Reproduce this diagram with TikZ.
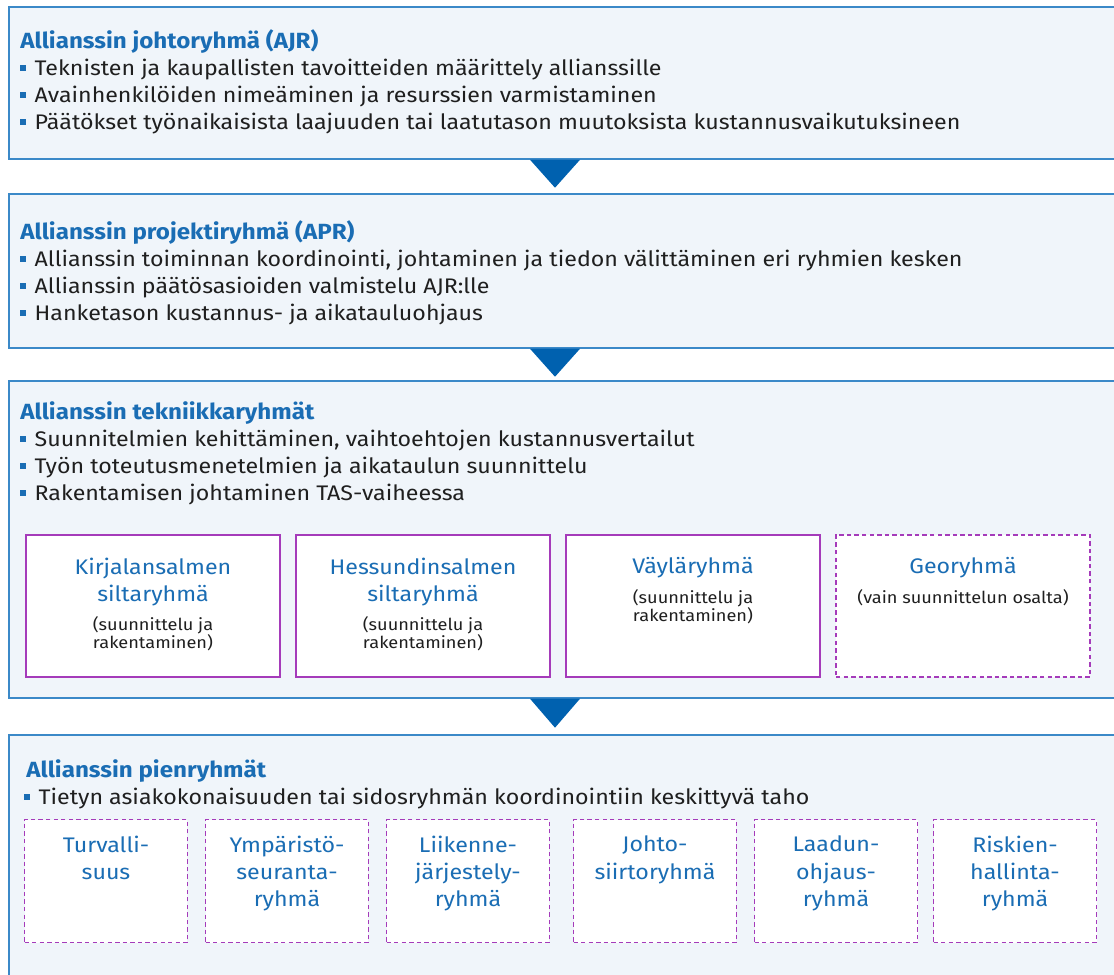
\documentclass[tikz,border=0pt]{standalone}
\usepackage{fontspec}
\setmainfont{Fira Sans}[FakeStretch=1.1]
\usetikzlibrary{positioning}

\definecolor{reunasini}{HTML}{3B89C8}
\definecolor{taustasini}{HTML}{F0F5FA}
\definecolor{otsikkosini}{HTML}{1A6DB4}
\definecolor{nuolisini}{HTML}{0061AF}
\definecolor{violetti}{HTML}{A53BBA}
\definecolor{tekstimusta}{HTML}{1F1F1F}

\newcommand{\pallo}{{\color{otsikkosini}\rule[0.2em]{0.28em}{0.28em}}\hspace{0.4em}}

\tikzset{
  paneeli/.style={draw=reunasini, line width=1pt, fill=taustasini, anchor=north west, inner sep=0pt, minimum width=22.2cm},
  otsikko/.style={anchor=base west, inner sep=0pt, font=\fontsize{12.5}{14}\selectfont\bfseries, text=otsikkosini},
  kohta/.style={anchor=base west, inner sep=0pt, font=\fontsize{12}{14}\selectfont, text=tekstimusta},
  nuoli/.style={fill=nuolisini},
  ryhma/.style={draw=violetti, line width=0.8pt, fill=white, minimum height=2.84cm, minimum width=5.08cm, inner sep=0pt},
  pienryhma/.style={ryhma, dash pattern=on 2.5pt off 1.8pt, minimum width=3.26cm, minimum height=2.46cm},
  ryhmanimi/.style={anchor=north, align=center, inner sep=0pt, font=\fontsize{12}{15.4}\selectfont, text=otsikkosini},
  huomautus/.style={anchor=north, align=center, inner sep=0pt, font=\fontsize{9.4}{10.6}\selectfont, text=tekstimusta}
}

\begin{document}
\begin{tikzpicture}[x=0.02cm, y=-0.02cm]

    \useasboundingbox (0,0) rectangle (1114,974);

    % Paneelit
    \node[paneeli, minimum height=3.04cm] (ajr) at (8,6) {};
    \node[paneeli, minimum height=3.08cm] (apr) at (8,193) {};
    \node[paneeli, minimum height=6.34cm] (tek) at (8,380) {};
    \node[paneeli, minimum height=5.12cm] (pien) at (8,734) {};

    % Nuolet
    \coordinate (keski) at (555,0);
    \fill[nuoli] (ajr.south -| keski) ++(-25,0) -- ++(50,0) -- ++(-25,28) -- cycle;
    \fill[nuoli] (apr.south -| keski) ++(-25,0) -- ++(50,0) -- ++(-25,28) -- cycle;
    \fill[nuoli] (tek.south -| keski) ++(-25,0) -- ++(50,0) -- ++(-25,29) -- cycle;

    % Johtoryhma
    \node[otsikko] (ajr-t) at (20,48) {Allianssin johtoryhmä (AJR)};
    \foreach \rivi [count=\i] in {{Teknisten ja kaupallisten tavoitteiden määrittely allianssille},
        {Avainhenkilöiden nimeäminen ja resurssien varmistaminen},
        {Päätökset työnaikaisista laajuuden tai laatutason muutoksista kustannusvaikutuksineen}}
        \node[kohta] (ajr-\i) at (20,48+27*\i) {\pallo\rivi};

    % Projektiryhma
    \node[otsikko] (apr-t) at (20,239) {Allianssin projektiryhmä (APR)};
    \foreach \rivi [count=\i] in {{Allianssin toiminnan koordinointi, johtaminen ja tiedon välittäminen eri ryhmien kesken},
        {Allianssin päätösasioiden valmistelu AJR:lle},
        {Hanketason kustannus- ja aikatauluohjaus}}
        \node[kohta] (apr-\i) at (20,239+27*\i) {\pallo\rivi};

    % Tekniikkaryhmat
    \node[otsikko] (tek-t) at (20,419) {Allianssin tekniikkaryhmät};
    \foreach \rivi [count=\i] in {{Suunnitelmien kehittäminen, vaihtoehtojen kustannusvertailut},
        {Työn toteutusmenetelmien ja aikataulun suunnittelu},
        {Rakentamisen johtaminen TAS-vaiheessa}}
        \node[kohta] (tek-\i) at (20,419+27*\i) {\pallo\rivi};

    \node[ryhma] (kirja) at (153,606) {};
    \node[ryhma] (hessu) at (423,606) {};
    \node[ryhma] (vayla) at (693,606) {};
    \node[ryhma, dash pattern=on 2.5pt off 1.8pt] (geo) at (963,606) {};

    \node[ryhmanimi] (kirja-t) at ([yshift=-0.46cm]kirja.north) {Kirjalansalmen\\siltaryhmä};
    \node[huomautus, below=0.2cm of kirja-t] (kirja-h) {(suunnittelu ja\\rakentaminen)};
    \node[ryhmanimi] (hessu-t) at ([yshift=-0.46cm]hessu.north) {Hessundinsalmen\\siltaryhmä};
    \node[huomautus, below=0.2cm of hessu-t] (hessu-h) {(suunnittelu ja\\rakentaminen)};
    \node[ryhmanimi] (vayla-t) at ([yshift=-0.46cm]vayla.north) {Väyläryhmä};
    \node[huomautus, below=0.2cm of vayla-t] (vayla-h) {(suunnittelu ja\\rakentaminen)};
    \node[ryhmanimi] (geo-t) at ([yshift=-0.46cm]geo.north) {Georyhmä};
    \node[huomautus, below=0.2cm of geo-t] (geo-h) {(vain suunnittelun osalta)};

    % Pienryhmat
    \node[otsikko] (pien-t) at (26,777) {Allianssin pienryhmät};
    \node[kohta] (pien-1) at (24,804) {\pallo Tietyn asiakokonaisuuden tai sidosryhmän koordinointiin keskittyvä taho};

    \node[pienryhma] (turva) at (106,881) {};
    \node[pienryhma] (ympa) at (287,881) {};
    \node[pienryhma] (liik) at (468,881) {};
    \node[pienryhma] (johto) at (655,881) {};
    \node[pienryhma] (laatu) at (836,881) {};
    \node[pienryhma] (riski) at (1015,881) {};

    \node[ryhmanimi] at ([yshift=-0.34cm]turva.north) {Turvalli-\\suus};
    \node[ryhmanimi] at ([yshift=-0.34cm]ympa.north) {Ympäristö-\\seuranta-\\ryhmä};
    \node[ryhmanimi] at ([yshift=-0.34cm]liik.north) {Liikenne-\\järjestely-\\ryhmä};
    \node[ryhmanimi] at ([yshift=-0.34cm]johto.north) {Johto-\\siirtoryhmä};
    \node[ryhmanimi] at ([yshift=-0.34cm]laatu.north) {Laadun-\\ohjaus-\\ryhmä};
    \node[ryhmanimi] at ([yshift=-0.34cm]riski.north) {Riskien-\\hallinta-\\ryhmä};

\end{tikzpicture}
\end{document}
